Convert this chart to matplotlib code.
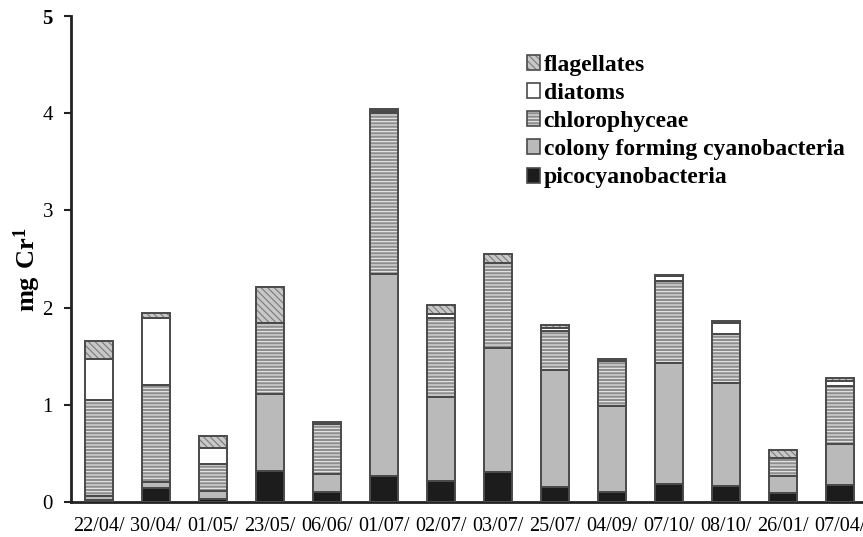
import matplotlib
matplotlib.use("Agg")
import matplotlib.pyplot as plt
from matplotlib.patches import Patch
import numpy as np

plt.rcParams['font.family'] = ['Liberation Serif', 'DejaVu Serif']
plt.rcParams['mathtext.fontset'] = 'custom'
plt.rcParams['mathtext.rm'] = 'Liberation Serif'
plt.rcParams['mathtext.bf'] = 'Liberation Serif:bold'
plt.rcParams['hatch.linewidth'] = 0.8

# sampling dates
dates = ['22/04/', '30/04/', '01/05/', '23/05/', '06/06/', '01/07/', '02/07/',
         '03/07/', '25/07/', '04/09/', '07/10/', '08/10/', '26/01/', '07/04/']

# biomass per group (mg C l-1), stacked bottom to top
picocyanobacteria = [0.02, 0.14, 0.03, 0.32, 0.10, 0.27, 0.22, 0.31, 0.15, 0.10, 0.19, 0.16, 0.09, 0.17]
colony_cyano      = [0.04, 0.07, 0.08, 0.79, 0.19, 2.08, 0.86, 1.27, 1.21, 0.89, 1.24, 1.06, 0.18, 0.43]
chlorophyceae     = [0.99, 0.99, 0.28, 0.73, 0.51, 1.65, 0.81, 0.88, 0.40, 0.46, 0.84, 0.51, 0.18, 0.59]
diatoms           = [0.42, 0.69, 0.17, 0.00, 0.00, 0.02, 0.04, 0.00, 0.03, 0.00, 0.05, 0.11, 0.00, 0.06]
flagellates       = [0.19, 0.05, 0.12, 0.37, 0.02, 0.02, 0.10, 0.09, 0.03, 0.02, 0.02, 0.025, 0.08, 0.03]

yticks = [0, 1, 2, 3, 4, 5]

# (label, values, face, hatch, hatch colour)
groups = [
    ('picocyanobacteria', picocyanobacteria, '#1c1c1c', None, '#1c1c1c'),
    ('colony forming cyanobacteria', colony_cyano, '#bababa', None, '#bababa'),
    ('chlorophyceae', chlorophyceae, '#8e8e8e', '-----', '#ececec'),
    ('diatoms', diatoms, '#ffffff', None, '#ffffff'),
    ('flagellates', flagellates, '#c8c8c8', '\\\\\\\\\\', '#7a7a7a'),
]

outline = '#4a4a4a'

fig = plt.figure(figsize=(8.63, 5.37), dpi=100)
ax = fig.add_axes([71 / 863, 35 / 537, 1 - 71 / 863, (502 - 16) / 537])

x = np.arange(len(dates))
width = 0.5
bottom = np.zeros(len(dates))
handles = []
labels = []
for label, vals, face, hatch, hcol in groups:
    v = np.array(vals, dtype=float)
    ax.bar(x, v, width, bottom=bottom, color=face, edgecolor=hcol,
           hatch=hatch, linewidth=0, zorder=2)
    ax.bar(x, v, width, bottom=bottom, fill=False, edgecolor=outline,
           linewidth=1.4, zorder=3)
    bottom += v
    fill_patch = Patch(facecolor=face, edgecolor=hcol, hatch=hatch, linewidth=0)
    edge_patch = Patch(fill=False, edgecolor=outline, linewidth=1.2)
    handles.append((fill_patch, edge_patch))
    labels.append(label)

ax.set_xlim(-0.49, 13.40)
ax.set_ylim(0, 5)
ax.set_yticks(yticks)
ax.set_yticklabels([str(t) for t in yticks], fontsize=15)
ax.get_yticklabels()[-1].set_fontweight('bold')
ax.set_xticks(x)
ax.set_xticklabels(dates, fontsize=14.5)
ax.tick_params(axis='x', length=0, pad=11)
ax.tick_params(axis='y', direction='out', length=5, width=1.5, pad=8, colors='#222222')
for lab in ax.get_yticklabels() + ax.get_xticklabels():
    lab.set_color('black')

for side in ('top', 'right'):
    ax.spines[side].set_visible(False)
for side in ('left', 'bottom'):
    ax.spines[side].set_linewidth(2.0)
    ax.spines[side].set_color('#222222')

fig.text(27 / 863, 1 - 270 / 537, r'$\mathbf{mg\ Cr^{1}}$', fontsize=19,
         rotation=90, ha='center', va='center')

leg = ax.legend(handles=handles[::-1], labels=labels[::-1], loc='upper left',
                bbox_to_anchor=(527 / 863, 1 - 55 / 537),
                bbox_transform=fig.transFigure, frameon=False,
                prop={'family': 'Liberation Serif', 'weight': 'bold', 'size': 17},
                handlelength=0.55, handleheight=0.6, handletextpad=0.15,
                labelspacing=0.3, borderpad=0, borderaxespad=0)

fig.savefig('out.png', dpi=100)
